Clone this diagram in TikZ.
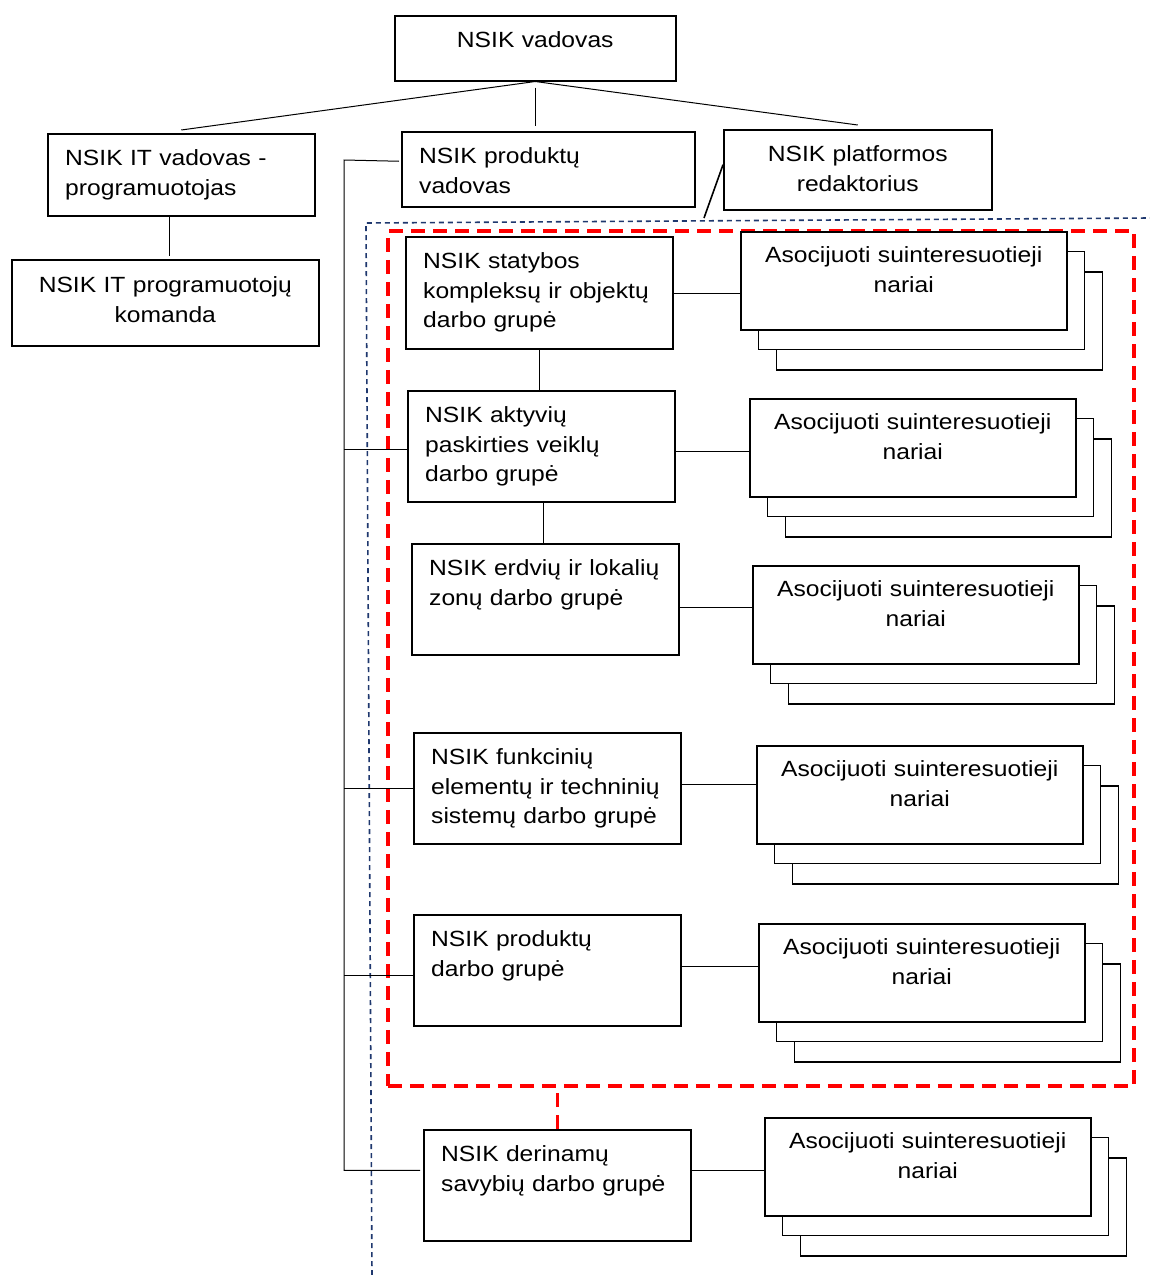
\documentclass[tikz,border=0pt]{standalone}
\usepackage{fontspec}
\setmainfont{Liberation Sans}[FakeStretch=1.12]
\usetikzlibrary{shadows}
\definecolor{navy}{RGB}{31,56,110}

\begin{document}
\begin{tikzpicture}[x=1pt, y=-1pt,
    box/.style={draw, line width=1.5pt, fill=white, anchor=north west, inner sep=0pt},
    grp/.style={box, minimum width=267pt, minimum height=111pt},
    asoc/.style={box, minimum width=326pt, minimum height=98pt,
      copy shadow={shadow xshift=35.5pt, shadow yshift=-40pt, draw=black, fill=white},
      copy shadow={shadow xshift=17.5pt, shadow yshift=-19.5pt, draw=black, fill=white}},
    txt/.style={inner sep=0pt, text height=20pt, font=\fontsize{22}{29.8}\selectfont},
    ltxt/.style={txt, anchor=north west, text width=300pt, align=left},
    ctxt/.style={txt, anchor=north, text width=340pt, align=center},
    conn/.style={line width=1pt},
    wgbox/.style={draw=red, line width=3.5pt, dash pattern=on 14pt off 8pt, anchor=north west, inner sep=0pt},
    reddash/.style={draw=red, line width=3.5pt, dash pattern=on 14pt off 8pt},
    bluedash/.style={draw=navy, line width=1.6pt, dash pattern=on 5pt off 4pt}]
  \useasboundingbox (0,0) rectangle (1150,1275);

  % frames
  \draw[bluedash] (372,1275) -- (366,223) -- (1150,218);
  \node[wgbox, minimum width=746pt, minimum height=855pt] (wg) at (386,229) {};

  % management
  \node[box, minimum width=281pt, minimum height=65pt] (vad) at (394,15) {};
  \node[ctxt] (vad-t) at ([yshift=-12pt]vad.north) {NSIK vadovas};
  \node[box, minimum width=267pt, minimum height=82pt] (itvad) at (47,133) {};
  \node[ltxt] (itvad-t) at ([shift={(18pt,-12.5pt)}]itvad.north west) {NSIK IT vadovas -\\programuotojas};
  \node[box, minimum width=307pt, minimum height=86pt] (komanda) at (11,259) {};
  \node[ctxt] (komanda-t) at ([yshift=-13pt]komanda.north) {NSIK IT programuotojų\\komanda};
  \node[box, minimum width=293pt, minimum height=75pt] (prodvad) at (401,131) {};
  \node[ltxt] (prodvad-t) at ([shift={(18pt,-12.5pt)}]prodvad.north west) {NSIK produktų\\vadovas};
  \node[box, minimum width=268pt, minimum height=80pt] (platf) at (723,129) {};
  \node[ctxt] (platf-t) at ([yshift=-12pt]platf.north) {NSIK platformos\\redaktorius};

  % work groups
  \node[grp, minimum height=112pt] (statyb) at (405,236) {};
  \node[ltxt] (statyb-t) at ([shift={(18pt,-12pt)}]statyb.north west) {NSIK statybos\\kompleksų ir objektų\\darbo grupė};
  \node[grp] (aktyv) at (407,390) {};
  \node[ltxt] (aktyv-t) at ([shift={(18pt,-12pt)}]aktyv.north west) {NSIK aktyvių\\paskirties veiklų\\darbo grupė};
  \node[grp] (erdv) at (411,543) {};
  \node[ltxt] (erdv-t) at ([shift={(18pt,-12pt)}]erdv.north west) {NSIK erdvių ir lokalių\\zonų darbo grupė};
  \node[grp] (funk) at (413,732) {};
  \node[ltxt] (funk-t) at ([shift={(18pt,-12pt)}]funk.north west) {NSIK funkcinių\\elementų ir techninių\\sistemų darbo grupė};
  \node[grp] (prodgr) at (413,914) {};
  \node[ltxt] (prodgr-t) at ([shift={(18pt,-12pt)}]prodgr.north west) {NSIK produktų\\darbo grupė};
  \node[grp] (derin) at (423,1129) {};
  \node[ltxt] (derin-t) at ([shift={(18pt,-12pt)}]derin.north west) {NSIK derinamų\\savybių darbo grupė};

  % associated members
  \node[asoc] (asoc1) at (740,231) {};
  \node[ctxt] (asoc1-t) at ([yshift=-11pt]asoc1.north) {Asocijuoti suinteresuotieji\\nariai};
  \node[asoc] (asoc2) at (749,398) {};
  \node[ctxt] (asoc2-t) at ([yshift=-11pt]asoc2.north) {Asocijuoti suinteresuotieji\\nariai};
  \node[asoc] (asoc3) at (752,565) {};
  \node[ctxt] (asoc3-t) at ([yshift=-11pt]asoc3.north) {Asocijuoti suinteresuotieji\\nariai};
  \node[asoc] (asoc4) at (756,745) {};
  \node[ctxt] (asoc4-t) at ([yshift=-11pt]asoc4.north) {Asocijuoti suinteresuotieji\\nariai};
  \node[asoc] (asoc5) at (758,923) {};
  \node[ctxt] (asoc5-t) at ([yshift=-11pt]asoc5.north) {Asocijuoti suinteresuotieji\\nariai};
  \node[asoc] (asoc6) at (764,1117) {};
  \node[ctxt] (asoc6-t) at ([yshift=-11pt]asoc6.north) {Asocijuoti suinteresuotieji\\nariai};

  % connectors
  \coordinate (bus) at (344,160);
  \coordinate (bl) at (704,218);
  \draw[conn] (vad.south) -- ([yshift=3pt]itvad.north);
  \draw[conn] ([yshift=-6pt]vad.south) -- ([yshift=5pt]vad.south |- prodvad.north);
  \draw[conn] (vad.south) -- ([yshift=4pt]platf.north);
  \draw[conn] ([xshift=-12pt]itvad.south) -- ([xshift=-12pt, yshift=3pt]itvad.south |- komanda.north);
  \draw[line width=1.6pt] ([yshift=5pt]platf.west) -- (bl);
  \draw[conn] ([xshift=-2pt, yshift=8pt]prodvad.west) -- (bus) |- ([xshift=-3pt, yshift=15pt]derin.west);
  \draw[conn] ([yshift=-3.5pt]aktyv.west) -- ([yshift=-3.5pt]aktyv.west -| bus);
  \draw[conn] (funk.west) -- (funk.west -| bus);
  \draw[conn] ([yshift=-5.5pt]prodgr.west) -- ([yshift=-5.5pt]prodgr.west -| bus);
  \draw[conn] (statyb.south) -- (statyb.south |- aktyv.north);
  \draw[conn] ([xshift=2pt]aktyv.south) -- ([xshift=2pt]aktyv.south |- erdv.north);
  \draw[conn] ([yshift=-1pt]statyb.east) -- ([yshift=-1pt]statyb.east -| asoc1.west);
  \draw[conn] ([yshift=-5.5pt]aktyv.east) -- ([yshift=-5.5pt]aktyv.east -| asoc2.west);
  \draw[conn] ([yshift=-8.5pt]erdv.east) -- ([yshift=-8.5pt]erdv.east -| asoc3.west);
  \draw[conn] ([yshift=3.5pt]funk.east) -- ([yshift=3.5pt]funk.east -| asoc4.west);
  \draw[conn] ([yshift=3.5pt]prodgr.east) -- ([yshift=3.5pt]prodgr.east -| asoc5.west);
  \draw[conn] ([yshift=15pt]derin.east) -- ([yshift=15pt]derin.east -| asoc6.west);
  \draw[reddash] (derin.north) -- (derin.north |- wg.south);
\end{tikzpicture}
\end{document}
